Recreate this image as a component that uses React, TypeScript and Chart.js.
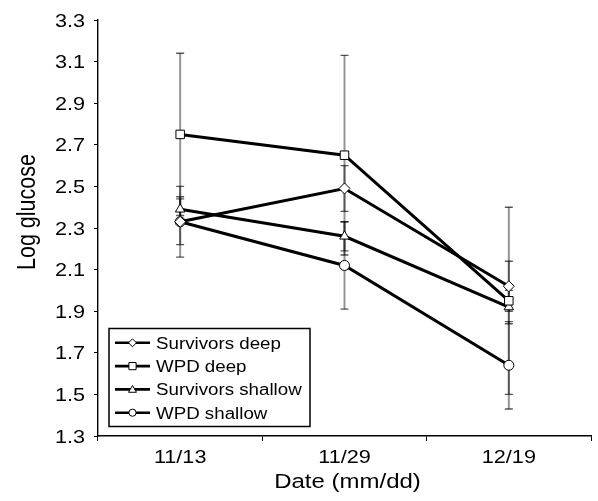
import React, { useEffect, useRef } from "react";
import { Chart, registerables } from "chart.js";

Chart.register(...registerables);

const categories = ["11/13", "11/29", "12/19"];
const seriesLabels = ["Survivors deep", "WPD deep", "Survivors shallow", "WPD shallow"];
const survivorsDeep = [2.33, 2.49, 2.02];
const wpdDeep = [2.75, 2.65, 1.95];
const survivorsShallow = [2.39, 2.26, 1.92];
const wpdShallow = [2.33, 2.12, 1.64];
const survivorsDeepErr = [0.11, 0.11, 0.12];
const wpdDeepErr = [0.39, 0.48, 0.45];
const survivorsShallowErr = [0.06, 0.07, 0.08];
const wpdShallowErr = [0.17, 0.21, 0.21];
const yTicks = [1.3, 1.5, 1.7, 1.9, 2.1, 2.3, 2.5, 2.7, 2.9, 3.1, 3.3];
const xTitle = "Date (mm/dd)";
const yTitle = "Log glucose";

const FONT = "'Liberation Sans', Arial, Helvetica, sans-serif";
const SX = 1.17; // horizontal text stretch seen in the reference
const pointStyles = ["rectRot", "rect", "triangle", "circle"];
const pointRadii = [5.5, 6, 5.5, 5];

function stretchedText(
  ctx: CanvasRenderingContext2D,
  text: string,
  x: number,
  y: number,
  size: number,
  align: CanvasTextAlign,
  rotate = 0
) {
  ctx.save();
  ctx.translate(x, y);
  ctx.scale(SX, 1);
  if (rotate) ctx.rotate(rotate);
  ctx.font = `${size}px ${FONT}`;
  ctx.fillStyle = "#000";
  ctx.textAlign = align;
  ctx.textBaseline = "alphabetic";
  ctx.fillText(text, 0, 0);
  ctx.restore();
}

const errorBarPlugin = {
  id: "errorBars",
  beforeDatasetsDraw(chart: any) {
    const ctx = chart.ctx;
    const yScale = chart.scales.y;
    const errs = [survivorsDeepErr, wpdDeepErr, survivorsShallowErr, wpdShallowErr];
    ctx.save();
    chart.data.datasets.forEach((ds: any, i: number) => {
      const meta = chart.getDatasetMeta(i);
      meta.data.forEach((pt: any, j: number) => {
        const v = ds.data[j];
        const e = errs[i][j];
        const yt = yScale.getPixelForValue(v + e);
        const yb = yScale.getPixelForValue(v - e);
        ctx.strokeStyle = "rgba(0,0,0,0.42)";
        ctx.lineWidth = 2;
        ctx.beginPath();
        ctx.moveTo(pt.x, yt);
        ctx.lineTo(pt.x, yb);
        ctx.stroke();
        ctx.strokeStyle = "rgba(0,0,0,0.65)";
        ctx.lineWidth = 1.4;
        ctx.beginPath();
        ctx.moveTo(pt.x - 4, yt);
        ctx.lineTo(pt.x + 4, yt);
        ctx.moveTo(pt.x - 4, yb);
        ctx.lineTo(pt.x + 4, yb);
        ctx.stroke();
      });
    });
    ctx.restore();
  },
};

const textPlugin = {
  id: "axisText",
  afterDraw(chart: any) {
    const ctx = chart.ctx;
    const xs = chart.scales.x;
    const ys = chart.scales.y;
    const tickSize = 18.5;
    ys.ticks.forEach((t: any, i: number) => {
      const y = ys.getPixelForTick(i);
      stretchedText(ctx, Number(t.value).toFixed(1), 85, y + tickSize * 0.358, tickSize, "right");
    });
    xs.ticks.forEach((t: any, i: number) => {
      const x = xs.getPixelForTick(i);
      stretchedText(ctx, String(chart.data.labels[i]), x, 463, tickSize, "center");
    });
    stretchedText(ctx, xTitle, (xs.left + xs.right) / 2 + 3, 488, 20.5, "center");
    stretchedText(ctx, yTitle, 35, 212, 21.5, "center", -Math.PI / 2);
  },
};

function drawMarker(ctx: CanvasRenderingContext2D, style: string, x: number, y: number, r: number) {
  ctx.beginPath();
  if (style === "circle") {
    ctx.arc(x, y, r, 0, Math.PI * 2);
  } else if (style === "rect") {
    ctx.rect(x - r, y - r, 2 * r, 2 * r);
  } else if (style === "rectRot") {
    ctx.moveTo(x, y - r * 1.1);
    ctx.lineTo(x + r * 1.1, y);
    ctx.lineTo(x, y + r * 1.1);
    ctx.lineTo(x - r * 1.1, y);
    ctx.closePath();
  } else if (style === "triangle") {
    ctx.moveTo(x, y - r * 1.1);
    ctx.lineTo(x + r * 1.1, y + r * 0.8);
    ctx.lineTo(x - r * 1.1, y + r * 0.8);
    ctx.closePath();
  }
  ctx.fill();
  ctx.stroke();
}

const legendPlugin = {
  id: "boxLegend",
  afterDraw(chart: any) {
    const ctx = chart.ctx;
    ctx.save();
    ctx.strokeStyle = "#000";
    ctx.lineWidth = 1.5;
    ctx.strokeRect(109, 328.5, 201, 98);
    chart.data.datasets.forEach((ds: any, i: number) => {
      const y = 342.8 + i * 23.3;
      ctx.strokeStyle = "#000";
      ctx.lineWidth = 2.6;
      ctx.beginPath();
      ctx.moveTo(115, y);
      ctx.lineTo(150, y);
      ctx.stroke();
      ctx.fillStyle = "#fff";
      ctx.lineWidth = 1;
      drawMarker(ctx, pointStyles[i], 132.5, y, 3.6);
      stretchedText(ctx, ds.label, 156, y + 5.8, 16, "left");
    });
    ctx.restore();
  },
};

export default function App() {
  const ref = useRef<HTMLCanvasElement | null>(null);
  useEffect(() => {
    if (!ref.current) return;
    const seriesData = [survivorsDeep, wpdDeep, survivorsShallow, wpdShallow];
    const chart = new Chart(ref.current, {
      type: "line",
      data: {
        labels: categories,
        datasets: seriesLabels.map((label, i) => ({
          label,
          data: seriesData[i],
          borderColor: "#000",
          borderWidth: 3,
          backgroundColor: "#fff",
          pointStyle: pointStyles[i] as any,
          pointRadius: pointRadii[i],
          pointBorderWidth: 1,
          pointBorderColor: "#000",
          pointBackgroundColor: "#fff",
          tension: 0,
        })),
      },
      options: {
        responsive: false,
        animation: false,
        layout: { padding: { top: 20, right: 1, left: 0, bottom: 0 } },
        plugins: {
          legend: { display: false },
          tooltip: { enabled: false },
        },
        scales: {
          x: {
            type: "category",
            offset: true,
            grid: {
              display: true,
              offset: true,
              drawOnChartArea: false,
              drawTicks: true,
              tickLength: 5,
              color: "#000",
              lineWidth: 1,
            },
            border: { display: true, color: "#000", width: 1.4 },
            ticks: { display: false },
            afterFit(scale: any) {
              scale.height = 65;
            },
          },
          y: {
            min: 1.3,
            max: 3.3,
            afterBuildTicks(scale: any) {
              scale.ticks = yTicks.map((v) => ({ value: v }));
            },
            grid: {
              display: true,
              drawOnChartArea: false,
              drawTicks: true,
              tickLength: 4,
              color: "#000",
              lineWidth: 1,
            },
            border: { display: true, color: "#000", width: 1.4 },
            ticks: { display: false },
            afterFit(scale: any) {
              scale.width = 98;
            },
          },
        },
      },
      plugins: [errorBarPlugin, textPlugin, legendPlugin],
    });
    return () => chart.destroy();
  }, []);
  return (
    <div style={{ position: "absolute", left: 0, top: 0, width: 598, height: 501, background: "#fff" }}>
      <canvas ref={ref} width={598} height={501} />
    </div>
  );
}
